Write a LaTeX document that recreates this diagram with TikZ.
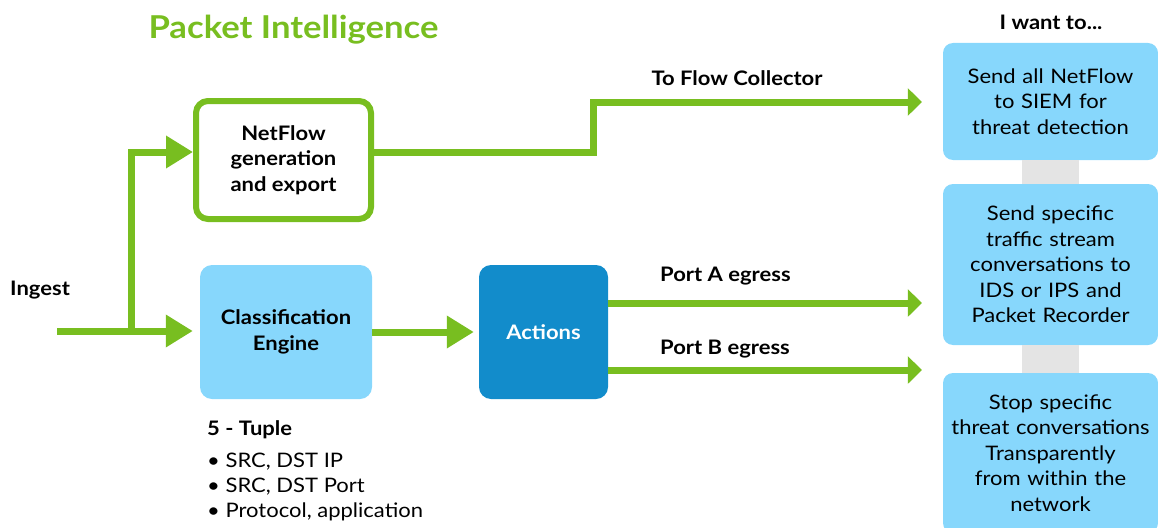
\documentclass[tikz,border=0pt]{standalone}
\usepackage{fontspec}
\setmainfont{Lato}[FakeStretch=1.1]
\usetikzlibrary{arrows.meta}
\definecolor{pgreen}{HTML}{78BE20}
\definecolor{plight}{HTML}{87D7FC}
\definecolor{pdark}{HTML}{128CCB}
\definecolor{pgrey}{HTML}{E4E4E4}
\newcommand{\bodyfont}{\fontsize{20}{25.5}\selectfont}
\tikzset{
  flowbox/.style={draw=pgreen,line width=6pt,fill=white,rounded corners=12pt,
    minimum width=175pt,minimum height=118pt,align=center,font=\bodyfont\bfseries},
  engbox/.style={fill=plight,rounded corners=12pt,minimum width=172pt,
    minimum height=134pt,align=center,font=\bodyfont\bfseries},
  actbox/.style={fill=pdark,rounded corners=12pt,minimum width=129pt,
    minimum height=134pt,text=white,font=\bodyfont\bfseries},
  wantbox/.style={fill=plight,rounded corners=10pt,minimum width=215pt,
    text width=211pt,inner sep=2pt,align=center,font=\bodyfont},
  lbl/.style={anchor=base,font=\bodyfont\bfseries,inner sep=0pt},
  feed/.style={draw=pgreen,line width=7pt,-{Triangle[length=27pt,width=31pt]}},
  egress/.style={draw=pgreen,line width=7pt,-{Triangle[length=14pt,width=27pt]},shorten >=21pt},
  gbar/.style={draw=pgrey,line width=57pt}
}

\begin{document}
\begin{tikzpicture}[x=1pt,y=-1pt]
\useasboundingbox (0,0) rectangle (1158,527);
\node[lbl,font=\fontsize{31.5}{36}\selectfont\bfseries,text=pgreen] (title) at (293.5,39) {Packet Intelligence};
\node[lbl,anchor=base west] (ingest) at (10,295) {Ingest};

\node[flowbox] (nf) at (283.5,160) {NetFlow\\generation\\and export};
\node[engbox] (cls) at (286,332) {Classification\\Engine};
\node[actbox] (act) at (543.5,332) {Actions};

\node[lbl] (want) at (1051,30) {I want to...};
\node[wantbox,minimum height=117pt] (want1) at (1050.5,101.5) {Send all NetFlow\\to SIEM for\\threat detection};
\node[wantbox,minimum height=161pt] (want2) at (1050.5,264.5) {Send specific\\traffic stream\\conversations to\\IDS or IPS and\\Packet Recorder};
\node[wantbox,minimum height=160pt] (want3) at (1050.5,453) {Stop specific\\threat conversations\\Transparently\\from within the\\network};
\draw[gbar] (want1.south) -- (want2.north);
\draw[gbar] (want2.south) -- (want3.north);

\coordinate (ing) at (57,331);
\coordinate (split) at (131,331);
\draw[feed,shorten >=7pt] (ing) -- (ing -| cls.west);
\draw[feed] (split) |- ([yshift=8pt]nf.west);
\draw[feed,shorten >=5pt] (cls) -- (act);

\coordinate (bend) at (593,102);
\draw[egress] ([yshift=8pt]nf.east) -| (bend) -- (bend -| want1.west);
\node[lbl] (tofc) at (737,85) {To Flow Collector};

\coordinate (pa) at ([yshift=29pt]act.east);
\coordinate (pb) at ([yshift=-38pt]act.east);
\draw[egress] (pa) -- (pa -| want2.west);
\draw[egress] (pb) -- (pb -| want3.west);
\node[lbl,anchor=base west] (porta) at (660,281) {Port A egress};
\node[lbl,anchor=base west] (portb) at (660,354) {Port B egress};

\node[lbl,anchor=base west] (tuple) at (207,435) {5 - Tuple};
\node[lbl,anchor=base west,font=\bodyfont] (ip) at (207,467) {• SRC, DST IP};
\node[lbl,anchor=base west,font=\bodyfont] (port) at (207,492) {• SRC, DST Port};
\node[lbl,anchor=base west,font=\bodyfont] (proto) at (207,517) {• Protocol, application};
\end{tikzpicture}
\end{document}
